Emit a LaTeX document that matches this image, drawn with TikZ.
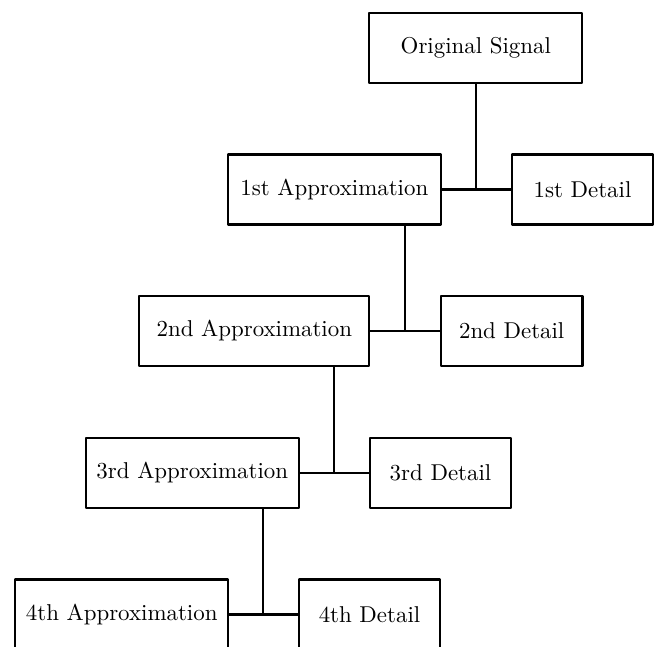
\documentclass[tikz,border=0pt]{standalone}
\usetikzlibrary{calc}
\begin{document}
\begin{tikzpicture}[x=0.4367pt,y=-0.4367pt,
  box/.style={draw,line width=0.9pt,line join=round,outer sep=0pt,inner sep=0pt,
    minimum height=70*0.4367pt,font=\normalsize},
  wide/.style={box,minimum width=212.7*0.4367pt},
  wider/.style={box,minimum width=230*0.4367pt},
  det/.style={box,minimum width=141.6*0.4367pt},
  conn/.style={line width=0.9pt}]
\useasboundingbox (0,0) rectangle (659,646);
\node[box,minimum width=213*0.4367pt] (orig) at (475.8,47.7) {Original Signal};
\node[wide] (a1) at (334.3,189.5) {1st Approximation};
\node[det]  (d1) at (582.5,189.5) {1st Detail};
\node[wider] (a2) at (254.3,331) {2nd Approximation};
\node[det]  (d2) at (511.7,331) {2nd Detail};
\node[wide] (a3) at (192.3,473) {3rd Approximation};
\node[det]  (d3) at (440.5,473) {3rd Detail};
\node[wide] (a4) at (121.7,614.5) {4th Approximation};
\node[det]  (d4) at (369.5,614.5) {4th Detail};
\coordinate (j1) at ($(a1.east)!0.5!(d1.west)$);
\coordinate (j2) at ($(a2.east)!0.5!(d2.west)$);
\coordinate (j3) at ($(a3.east)!0.5!(d3.west)$);
\coordinate (j4) at ($(a4.east)!0.5!(d4.west)$);
\draw[conn] (a1.east) -- (d1.west);
\draw[conn] (j1 |- orig.south) -- (j1);
\draw[conn] (a2.east) -- (d2.west);
\draw[conn] (j2 |- a1.south) -- (j2);
\draw[conn] (a3.east) -- (d3.west);
\draw[conn] (j3 |- a2.south) -- (j3);
\draw[conn] (a4.east) -- (d4.west);
\draw[conn] (j4 |- a3.south) -- (j4);
\end{tikzpicture}
\end{document}
